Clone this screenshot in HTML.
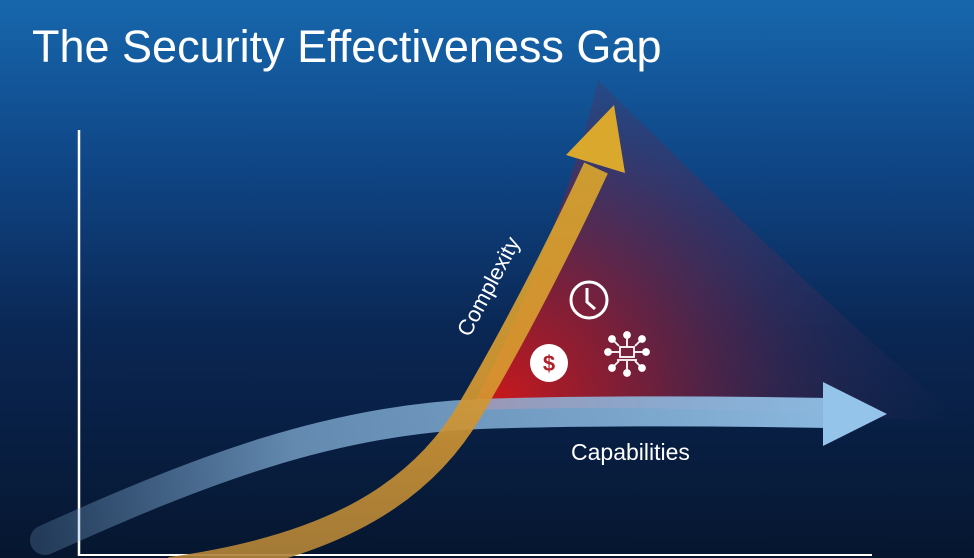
<!DOCTYPE html>
<html><head><style>html,body{margin:0;padding:0;width:974px;height:558px;overflow:hidden;background:#06162f}</style></head>
<body>
<svg width="974" height="558" viewBox="0 0 974 558" xmlns="http://www.w3.org/2000/svg">
<defs>
<linearGradient id="bg" x1="0" y1="0" x2="0" y2="1">
<stop offset="0" stop-color="#1767ad"/>
<stop offset="0.3" stop-color="#0f4585"/>
<stop offset="0.6" stop-color="#0a2653"/>
<stop offset="1" stop-color="#06162f"/>
</linearGradient>
<radialGradient id="red" cx="500" cy="405" r="450" gradientUnits="userSpaceOnUse">
<stop offset="0" stop-color="#c8181c" stop-opacity="1"/>
<stop offset="0.3" stop-color="#8c1e35" stop-opacity="0.85"/>
<stop offset="0.65" stop-color="#5a2a55" stop-opacity="0.4"/>
<stop offset="1" stop-color="#3a3060" stop-opacity="0"/>
</radialGradient>
<linearGradient id="blue" x1="40" y1="0" x2="880" y2="0" gradientUnits="userSpaceOnUse">
<stop offset="0" stop-color="#7aa6cf" stop-opacity="0.25"/>
<stop offset="0.3" stop-color="#8ab7de" stop-opacity="0.7"/>
<stop offset="1" stop-color="#95c4ea" stop-opacity="0.95"/>
</linearGradient>
<linearGradient id="orange" x1="0" y1="558" x2="0" y2="100" gradientUnits="userSpaceOnUse">
<stop offset="0" stop-color="#b08238"/>
<stop offset="0.4" stop-color="#d99a30"/>
<stop offset="1" stop-color="#d9a82c"/>
</linearGradient>
</defs>
<rect width="974" height="558" fill="url(#bg)"/>
<path d="M470 410 C520 320 570 200 598 80 C700 180 850 330 970 425 C800 410 640 405 470 410 Z" fill="url(#red)"/>
<line x1="79" y1="130" x2="79" y2="556" stroke="#fff" stroke-width="2.5"/>
<line x1="79" y1="555" x2="872" y2="555" stroke="#fff" stroke-width="2"/>
<path d="M45 540 C200 470 330 420 480 414 C600 410 720 411 830 413" fill="none" stroke="url(#blue)" stroke-width="30" stroke-linecap="round"/>
<polygon points="823,382 887,414 823,446" fill="#95c4ea"/>
<path d="M170 570 C330 548 420 495 470 410 C520 325 565 235 596 168" fill="none" stroke="url(#orange)" stroke-width="26" opacity="0.92"/>
<polygon points="614,105 566,155 625,173" fill="#d9a82c"/>
<text x="32" y="62" font-family="Liberation Sans, sans-serif" font-size="45" fill="#fff">The Security Effectiveness Gap</text>
<text x="0" y="0" transform="translate(495,290) rotate(-62)" text-anchor="middle" font-family="Liberation Sans, sans-serif" font-size="22" fill="#fff">Complexity</text>
<text x="571" y="460" font-family="Liberation Sans, sans-serif" font-size="23" fill="#fff">Capabilities</text>
<circle cx="589" cy="300" r="18" fill="none" stroke="#fff" stroke-width="3"/>
<polyline points="587,288 587,302 595,309" fill="none" stroke="#fff" stroke-width="3"/>
<circle cx="549" cy="363" r="19" fill="#fff"/>
<text x="549" y="371" text-anchor="middle" font-family="Liberation Sans, sans-serif" font-weight="bold" font-size="22" fill="#b0202a">$</text>
<g stroke="#fff" stroke-width="1.8" fill="#fff">
<rect x="620" y="347" width="14" height="10" fill="none"/>
<line x1="617" y1="360" x2="637" y2="360"/>
<line x1="627" y1="347" x2="627" y2="338"/><circle cx="627" cy="335" r="3"/>
<line x1="627" y1="361" x2="627" y2="370"/><circle cx="627" cy="373" r="3"/>
<line x1="620" y1="352" x2="611" y2="352"/><circle cx="608" cy="352" r="3"/>
<line x1="634" y1="352" x2="643" y2="352"/><circle cx="646" cy="352" r="3"/>
<line x1="619" y1="346" x2="614" y2="341"/><circle cx="612" cy="339" r="3"/>
<line x1="635" y1="346" x2="640" y2="341"/><circle cx="642" cy="339" r="3"/>
<line x1="619" y1="361" x2="614" y2="366"/><circle cx="612" cy="368" r="3"/>
<line x1="635" y1="361" x2="640" y2="366"/><circle cx="642" cy="368" r="3"/>
</g>
</svg>
</body></html>
